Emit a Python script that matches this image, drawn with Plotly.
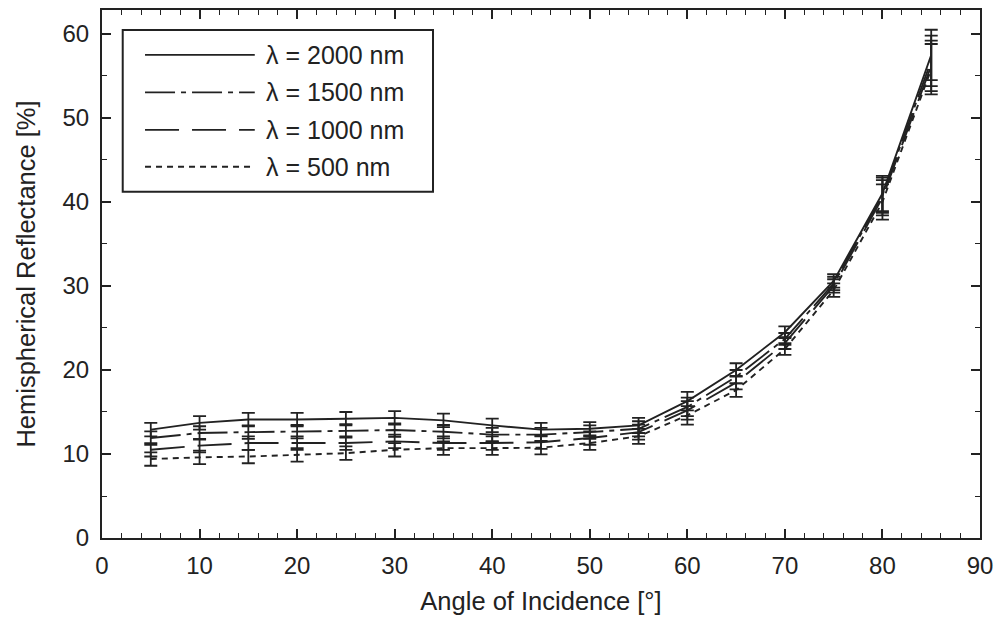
import plotly.graph_objects as go

angles = [5, 10, 15, 20, 25, 30, 35, 40, 45, 50, 55, 60, 65, 70, 75, 80, 85]

r2000 = [12.9, 13.7, 14.1, 14.1, 14.2, 14.3, 14.0, 13.4, 12.9, 13.0, 13.4, 16.3, 20.0, 24.5, 30.6, 41.0, 57.5]
r1500 = [11.9, 12.5, 12.6, 12.65, 12.75, 12.85, 12.65, 12.3, 12.3, 12.6, 13.0, 15.6, 19.2, 23.7, 30.3, 40.8, 56.8]
r1000 = [10.5, 11.0, 11.3, 11.3, 11.3, 11.5, 11.3, 11.3, 11.4, 11.9, 12.6, 15.2, 18.5, 23.2, 30.0, 40.5, 56.2]
r500 = [9.4, 9.6, 9.7, 9.9, 10.1, 10.5, 10.7, 10.7, 10.75, 11.3, 12.1, 14.6, 17.6, 22.5, 29.5, 40.0, 55.8]

err = [0.8, 0.8, 0.8, 0.8, 0.8, 0.8, 0.8, 0.8, 0.8, 0.8, 0.9, 1.1, 0.8, 0.7, 0.8, 2.1, 3.0]

labels = ["λ = 2000 nm", "λ = 1500 nm", "λ = 1000 nm", "λ = 500 nm"]
series = [r2000, r1500, r1000, r500]
dashes = ["solid", "30px,6px,5px,6px", "34px,13px", "6px,5px"]

x_ticks = [0, 10, 20, 30, 40, 50, 60, 70, 80, 90]
y_ticks = [0, 10, 20, 30, 40, 50, 60]

INK = "#222222"
FONT = "Liberation Sans, Arial, sans-serif"

fig = go.Figure()
for name, vals, dash in zip(labels, series, dashes):
    fig.add_trace(go.Scatter(
        x=angles, y=vals, name=name, mode="lines",
        line=dict(color=INK, width=1.9, dash=dash),
        error_y=dict(type="data", array=err, visible=True,
                     color=INK, thickness=1.8, width=6.5),
        showlegend=False,
    ))

# custom legend (box, sample lines, labels)
box_x0, box_x1, box_y0, box_y1 = 0.0236, 0.377, 0.656, 0.962
fig.add_shape(type="rect", xref="paper", yref="paper",
              x0=box_x0, x1=box_x1, y0=box_y0, y1=box_y1,
              line=dict(color=INK, width=2), fillcolor="white", layer="above")
row_y = [0.915, 0.844, 0.773, 0.703]
for name, dash, yy in zip(labels, dashes, row_y):
    fig.add_shape(type="line", xref="paper", yref="paper",
                  x0=0.049, x1=0.174, y0=yy, y1=yy,
                  line=dict(color=INK, width=1.9, dash=dash), layer="above")
    fig.add_annotation(xref="paper", yref="paper", x=0.184, y=yy,
                       text=name, showarrow=False, xanchor="left",
                       yanchor="middle",
                       font=dict(family=FONT, size=25, color=INK))

axis_common = dict(
    showline=True, linecolor=INK, linewidth=2, mirror="ticks",
    ticks="inside", ticklen=9, tickwidth=1.6, tickcolor=INK,
    showgrid=False, zeroline=False,
    tickfont=dict(family=FONT, size=24, color=INK),
)

fig.update_xaxes(
    range=[0, 90], tickvals=x_ticks, ticktext=[str(v) for v in x_ticks],
    minor=dict(dtick=2, tick0=0, ticks="inside", ticklen=5, tickwidth=1.4,
               tickcolor=INK, showgrid=False),
    title=dict(text="Angle of Incidence [°]", standoff=14,
               font=dict(family=FONT, size=25.5, color=INK)),
    ticklabelstandoff=5,
    **axis_common,
)
fig.update_yaxes(
    range=[0, 62.85], tickvals=y_ticks, ticktext=[str(v) for v in y_ticks],
    minor=dict(dtick=5, tick0=0, ticks="inside", ticklen=5, tickwidth=1.4,
               tickcolor=INK, showgrid=False),
    title=dict(text="Hemispherical Reflectance [%]", standoff=20,
               font=dict(family=FONT, size=25.5, color=INK)),
    ticklabelstandoff=6,
    **axis_common,
)

fig.update_layout(
    width=998, height=626,
    margin=dict(l=102, r=18, t=10, b=88, autoexpand=False),
    paper_bgcolor="white", plot_bgcolor="white",
    font=dict(family=FONT, color=INK),
)

fig.write_html("out.html")
